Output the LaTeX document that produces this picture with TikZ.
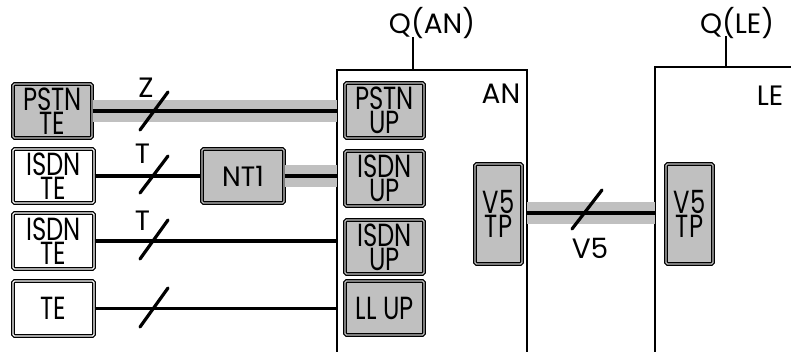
\documentclass[tikz,border=0pt]{standalone}
\usepackage{fontspec}
\setmainfont{Poppins}
\newfontfamily\boxfont{Poppins}[FakeStretch=0.76]
\newfontfamily\ntfont{Poppins}[FakeStretch=0.95]
\definecolor{boxgrey}{RGB}{192,192,192}
\tikzset{
  unit/.style={draw=black, line width=1.3pt, double=boxgrey, double distance=1.1pt,
    rounded corners=1.5pt, inner sep=0pt, align=center,
    font=\boxfont\fontsize{32}{24}\selectfont, minimum width=79pt, minimum height=54pt},
  greyunit/.style={unit, fill=boxgrey},
  whiteunit/.style={unit, fill=white, double=white},
  lbl/.style={font=\fontsize{28}{28}\selectfont, inner sep=0pt, anchor=base},
  wire/.style={line width=3.5pt, black},
  band/.style={line width=22pt, boxgrey},
  slash/.style={line width=3.2pt, black, line cap=round},
  frame/.style={line width=2.8pt, black}
}
\begin{document}
\begin{tikzpicture}[x=1pt,y=-1pt]
\useasboundingbox (0,0) rectangle (791,351);
% AN and LE frames
\coordinate (anbl) at (337,352);
\coordinate (antl) at (337,70);
\coordinate (antr) at (527,70);
\coordinate (anbr) at (527,352);
\coordinate (qan) at (413,37);
\coordinate (qantop) at (413,70);
\draw[frame] (anbl) -- (antl) -- (antr) -- (anbr);
\draw[frame] (qan) -- (qantop);
\coordinate (lebl) at (655,352);
\coordinate (letl) at (655,67);
\coordinate (letr) at (792,67);
\coordinate (qle) at (726,36);
\coordinate (qletop) at (726,67);
\draw[frame] (lebl) -- (letl) -- (letr);
\draw[frame] (qle) -- (qletop);
\node[lbl] (qanl) at (432,33) {Q(AN)};
\node[lbl] (qlel) at (737,33) {Q(LE)};
\node[lbl] (anl) at (501,103) {AN};
\node[lbl] (lel) at (770,105) {LE};

% left units
\node[greyunit, minimum width=79pt] (pstnte) at (52.5,111) {PSTN\\TE};
\node[whiteunit, minimum width=81pt] (isdnte1) at (53.5,176) {ISDN\\TE};
\node[whiteunit, minimum width=81pt, minimum height=56pt] (isdnte2) at (53.5,241) {ISDN\\TE};
\node[whiteunit, minimum width=81pt, minimum height=55pt] (te) at (53.5,308.5) {TE};
\node[greyunit, minimum width=82pt, font=\ntfont\fontsize{28}{24}\selectfont] (nt1) at (243,176) {NT1};

% user ports
\node[greyunit, minimum height=55pt] (pstnup) at (384.5,110.5) {PSTN\\UP};
\node[greyunit, minimum height=55pt] (isdnup1) at (384.5,178.5) {ISDN\\UP};
\node[greyunit, minimum height=54pt] (isdnup2) at (384.5,247) {ISDN\\UP};
\node[greyunit, minimum height=54pt] (llup) at (384.5,308) {LL UP};

% V5 TPs
\node[greyunit, minimum width=47pt, minimum height=100pt] (v5an) at (498.5,214) {V5\\TP};
\node[greyunit, minimum width=47pt, minimum height=100pt] (v5le) at (689.5,214) {V5\\TP};

% connectors
\coordinate (an1) at (pstnte.east -| antl);
\coordinate (an3) at (isdnte2.east -| antl);
\coordinate (an4) at (te.east -| antl);
\coordinate (an2) at (nt1.east -| antl);
\coordinate (v5a) at (527,213);
\coordinate (v5b) at (655,213);
\draw[band] (pstnte.east) -- (an1);
\draw[band] (nt1.east) -- (an2);
\draw[band] (v5a) -- (v5b);
\draw[wire] (pstnte.east) -- (an1);
\draw[wire] (isdnte1.east) -- (nt1.west);
\draw[wire] (nt1.east) -- (an2);
\draw[wire] (isdnte2.east) -- (an3);
\draw[wire] (te.east) -- (an4);
\draw[wire] (v5a) -- (v5b);

% slashes
\draw[slash] (140,130) -- (168,92);
\draw[slash] (140,193) -- (168,156);
\draw[slash] (140,259) -- (168,220);
\draw[slash] (140,327) -- (168,288);
\draw[slash] (572,229) -- (602,190);

% interface labels
\node[lbl] (zl) at (146,97) {Z};
\node[lbl] (t1) at (142.5,163) {T};
\node[lbl] (t2) at (142.5,230) {T};
\node[lbl] (v5l) at (590,258) {V5};
\end{tikzpicture}
\end{document}
